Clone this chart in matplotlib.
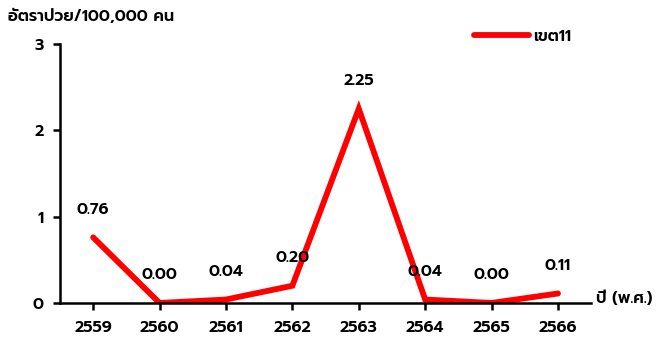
import matplotlib
matplotlib.use("Agg")
import matplotlib.pyplot as plt

plt.rcParams['font.family'] = ['Prompt', 'DejaVu Sans']
plt.rcParams['font.weight'] = 'semibold'

years = ['2559', '2560', '2561', '2562', '2563', '2564', '2565', '2566']
rates = [0.76, 0.00, 0.04, 0.20, 2.25, 0.04, 0.00, 0.11]
series_name = 'เขต11'

fig = plt.figure(figsize=(6.62, 3.38), dpi=100)
ax = fig.add_axes([0.0906, 0.1036, 0.8024, 0.7662])

x = list(range(len(years)))
ax.plot(x, rates, color='#ff0000', linewidth=4.2, solid_capstyle='round',
        solid_joinstyle='miter', label=series_name)

# value labels above each point
for xi, v in zip(x, rates):
    ax.annotate('%.2f' % v, (xi, v), xytext=(0, 20), textcoords='offset points',
                ha='center', va='center', fontsize=11.5)

ax.set_xlim(-0.5, len(years) - 0.5)
ax.set_ylim(0, 3)
ax.set_yticks([0, 1, 2, 3])
ax.set_xticks(x)
ax.set_xticklabels(years)
ax.tick_params(axis='both', labelsize=11.5, width=1.8, length=5, direction='out')
ax.tick_params(axis='x', pad=7)
ax.tick_params(axis='y', pad=7)
for s in ['top', 'right']:
    ax.spines[s].set_visible(False)
for s in ['left', 'bottom']:
    ax.spines[s].set_linewidth(1.8)

fig.text(0.012, 0.95, 'อัตราป่วย/100,000 คน', fontsize=11.5, va='center', ha='left')
fig.text(0.9, 0.115, 'ปี (พ.ศ.)', fontsize=11.5, va='center', ha='left')

ax.legend(loc='center left', bbox_to_anchor=(0.753, 1.027), frameon=False,
          handlelength=3.4, fontsize=11.5, handletextpad=0.3)

fig.savefig('out.png')
